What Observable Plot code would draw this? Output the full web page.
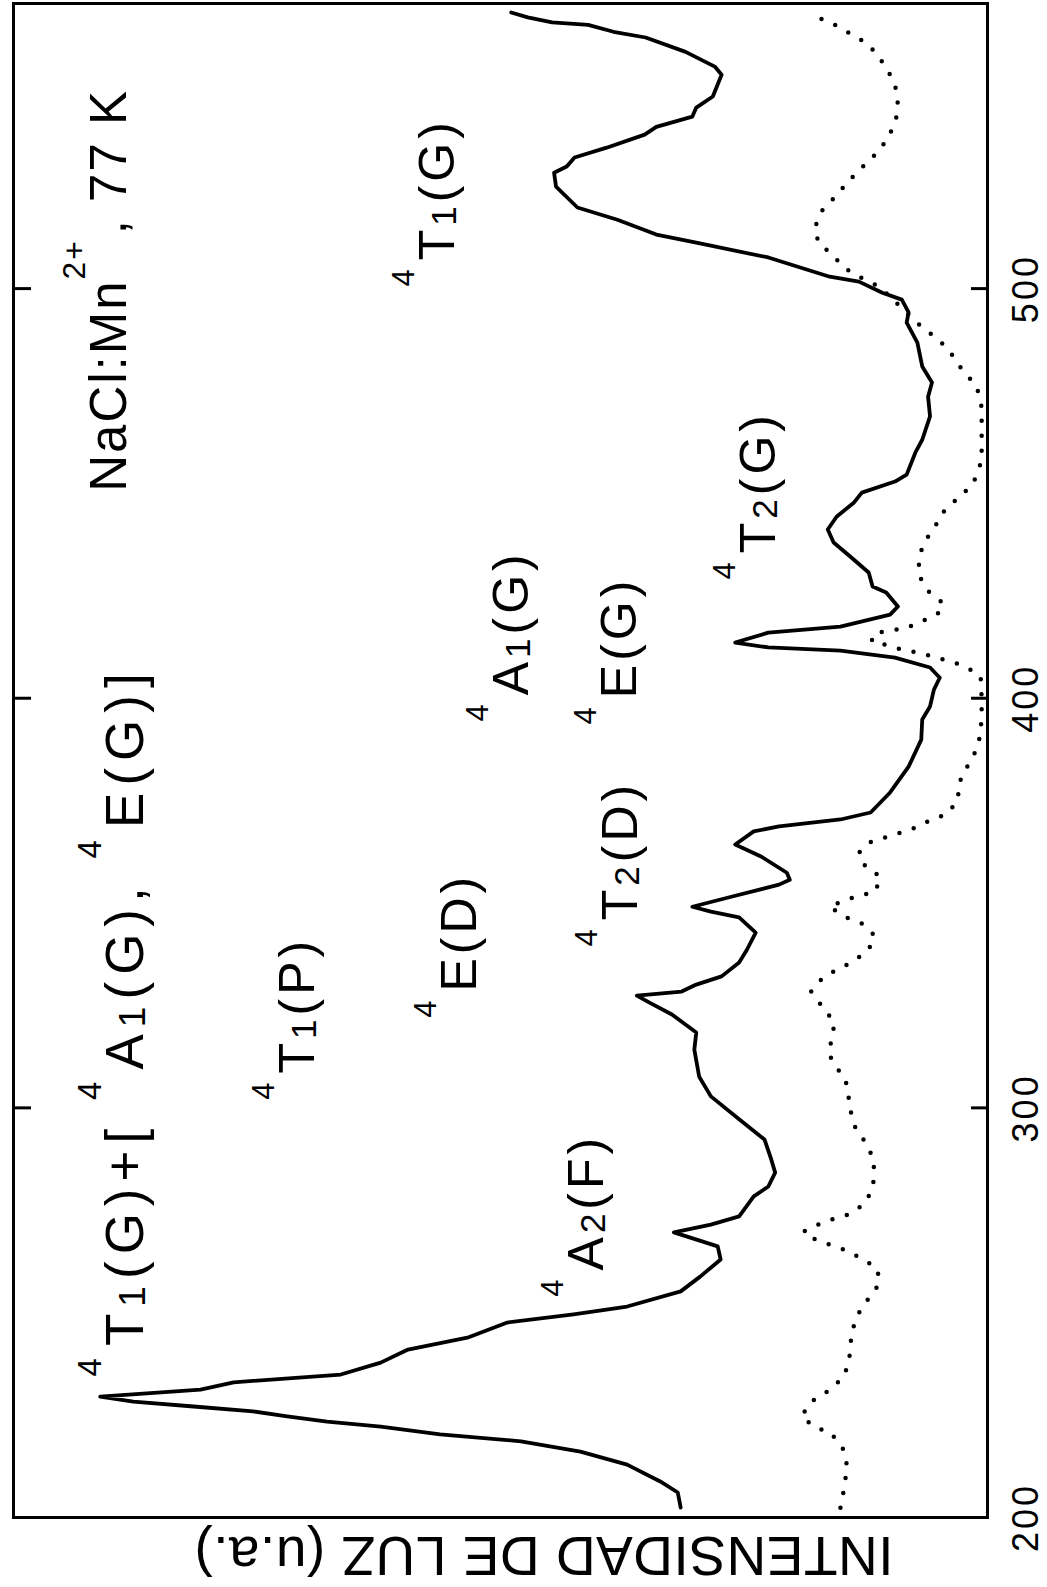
<!DOCTYPE html>
<html><head><meta charset="utf-8">
<script src="https://cdn.jsdelivr.net/npm/d3@7"></script>
<script src="https://cdn.jsdelivr.net/npm/@observablehq/plot@0.6"></script>
<style>
html,body{margin:0;padding:0;background:#fff;}
#wrap{position:relative;width:1047px;height:1587px;overflow:hidden;background:#fff;}
#wrap svg{position:absolute;left:0;top:0;max-width:none !important;width:1587px !important;height:1047px !important;transform-origin:0 0;transform:translate(0,1587px) rotate(-90deg);}
</style></head><body><div id="wrap"></div>
<script>
// Excitation spectrum (solid) — wavelength (nm) and intensity (a.u.)
const wavelengthSolid = [202.4,206.1,208.8,212.9,216.1,218.6,220.3,222.2,223.4,224.7,
225.9,227.1,228.3,229.5,231.2,233.0,234.9,237.8,241.0,243.9,
247.6,249.6,251.5,255.2,258.8,263.0,266.2,269.6,271.5,273.5,
278.4,280.8,284.2,287.4,292.3,297.2,302.8,307.6,314.2,318.4,
322.8,325.7,327.4,328.4,330.1,332.1,335.5,338.6,342.8,346.5,
347.9,349.1,351.6,354.5,355.7,357.4,361.3,364.3,367.5,368.7,
370.4,372.1,377.0,383.3,389.9,394.8,398.0,402.1,405.0,407.5,
409.9,411.6,412.4,413.6,416.0,417.5,420.4,422.4,425.8,427.3,
430.7,434.6,438.0,441.2,444.3,447.8,450.2,452.9,454.6,460.0,
463.1,468.8,473.6,477.1,481.0,486.8,491.7,494.2,497.3,499.0,
501.7,502.9,507.6,511.2,513.2,516.8,519.8,524.9,528.3,529.8,
532.0,534.4,537.6,539.5,542.0,544.2,546.9,552.2,554.2,557.8,
561.3,562.7,564.4,565.0,566.2,567.4];
const intensitySolid = [31.5,31.8,33.6,37.0,41.8,47.9,56.2,62.3,67.8,71.9,
75.4,81.5,87.7,91.1,80.8,77.4,66.4,62.3,59.5,53.4,
49.3,42.5,37.0,31.5,29.5,27.4,27.7,32.2,28.4,25.5,
24.0,22.5,21.8,22.2,22.9,25.5,28.4,29.6,30.1,29.9,
32.4,34.7,36.0,31.4,29.9,27.3,25.5,24.7,23.8,25.5,
28.4,30.3,26.2,21.4,20.3,20.6,23.2,25.9,24.0,21.4,
15.1,12.0,10.0,8.1,6.8,6.7,5.9,5.5,4.9,5.9,
9.5,15.1,22.5,25.9,22.5,15.1,10.0,9.2,10.4,11.8,
12.2,14.1,15.8,16.4,15.5,13.7,12.9,9.5,8.3,7.4,
6.7,5.9,6.1,5.7,6.7,7.2,8.3,8.1,8.8,10.8,
13.2,16.2,22.5,29.9,34.0,38.0,42.1,44.3,44.5,43.2,
42.4,39.1,35.2,34.0,30.3,29.9,28.2,27.3,28.0,31.0,
35.1,38.4,41.0,44.7,47.2,48.9];

// Dotted curve
const wavelengthDotted = [202.4,206.1,212.4,216.6,220.7,222.0,224.7,228.3,230.8,234.2,
238.1,241.7,245.6,249.6,253.5,257.1,260.8,263.2,265.2,266.4,
267.9,269.8,271.5,273.0,274.0,276.6,280.3,284.2,288.1,291.8,
295.4,299.6,303.3,307.2,310.1,313.3,316.9,320.8,324.5,328.4,
331.8,333.8,335.7,338.6,342.1,345.0,346.5,349.1,350.6,351.8,
352.8,356.5,358.7,362.3,364.8,366.0,367.2,368.4,370.4,371.8,
375.3,378.9,382.8,386.7,390.4,395.0,400.0,405.3,407.7,409.0,
409.9,411.1,411.6,412.9,413.8,415.8,416.5,417.0,418.7,420.7,
423.1,426.0,430.2,434.1,437.8,441.4,445.3,448.5,452.2,458.0,
465.0,471.0,476.1,480.2,484.4,487.5,490.5,500.5,502.4,504.6,
507.8,511.5,515.1,519.0,522.5,526.4,530.0,533.7,537.3,541.2,
544.9,548.8,552.7,556.4,559.8,562.0,564.2,565.9];
const intensityDotted = [15.1,14.8,14.4,14.8,16.1,17.7,19.1,18.1,16.4,14.8,
14.2,14.1,13.9,13.3,12.2,11.1,11.3,12.9,14.5,16.0,
17.7,18.9,17.4,15.7,14.2,12.6,11.8,11.6,11.8,12.6,
13.6,14.1,14.3,14.6,15.6,16.3,16.0,15.7,16.9,18.1,
16.9,15.4,13.8,12.2,11.6,12.9,14.5,16.2,14.8,13.1,
11.5,11.0,12.5,13.2,12.1,10.5,8.9,7.4,5.7,4.1,
3.0,3.0,2.2,1.3,0.8,0.6,0.6,0.7,2.2,3.8,
5.3,6.9,8.5,10.2,11.9,11.7,10.2,8.5,6.8,5.1,
4.5,6.0,7.1,7.0,6.6,5.5,4.6,3.2,1.5,0.6,
0.6,0.6,1.1,2.6,3.8,5.0,6.7,11.1,12.8,14.4,
15.8,17.4,17.7,17.0,15.6,14.2,12.7,11.1,10.1,9.4,
9.2,9.4,10.1,11.1,12.3,13.9,15.5,17.1];

const xTicks = [200, 300, 400, 500];
const innerTicks = [300, 400, 500];

// Band assignments (text markup: ^{..} superscript, _{..} subscript)
const labelText = ["^{4}T_{1}(G)", "^{4}T_{2}(G)", "^{4}A_{1}(G)", "^{4}E(G)", "^{4}T_{2}(D)", "^{4}E(D)", "^{4}T_{1}(P)", "^{4}A_{2}(F)"];
const labelLambda = [500.5, 429.0, 394.3, 393.6, 339.4, 322.0, 302.0, 253.9];
const labelLevel = [54.8, 21.8, 47.2, 36.1, 36.0, 52.5, 69.1, 39.5];

const headerText = "^{4}T_{1}(G)+[ ^{4}A_{1}(G), ^{4}E(G)]";
const headerLambda = 234.4, headerLevel = 86.7;
const sampleText = "NaCl:Mn^{2+}, 77 K";
const sampleLambda = 450.4, sampleLevel = 88.5;
const yLabel = "INTENSIDAD DE LUZ (u.a.)";

const solid = wavelengthSolid.map((x, i) => ({x, y: intensitySolid[i]}));
const dotted = wavelengthDotted.map((x, i) => ({x, y: intensityDotted[i]}));
const assignments = labelText.map((t, i) => ({t, x: labelLambda[i], y: labelLevel[i]}));

const W = 1587, H = 1047, mT = 13, mB = 60;
const frameH = H - mT - mB;

const plot = Plot.plot({
  width: W, height: H,
  marginLeft: 69, marginRight: 4, marginTop: mT, marginBottom: mB,
  style: {fontFamily: "'Liberation Sans', Arial, sans-serif", background: "#fff", color: "#000"},
  x: {domain: [200, 569.6]},
  y: {domain: [0, 100], axis: null},
  marks: [
    Plot.line(dotted, {x: "x", y: "y", stroke: "#000", strokeWidth: 4.5, strokeDasharray: "0 15", strokeLinecap: "round"}),
    Plot.line(solid, {x: "x", y: "y", stroke: "#000", strokeWidth: 3.8, strokeLinejoin: "round", strokeLinecap: "round"}),
    Plot.frame({stroke: "#000", strokeWidth: 3}),
    Plot.tickX(innerTicks, {x: d => d, stroke: "#000", strokeWidth: 3, insetTop: frameH - 16}),
    Plot.tickX(innerTicks, {x: d => d, stroke: "#000", strokeWidth: 3, insetBottom: frameH - 18}),
    Plot.axisX({ticks: xTicks, tickSize: 0, tickPadding: 25, fontSize: 36, label: null}),
    Plot.text(assignments, {x: "x", y: "y", text: "t", textAnchor: "start", lineAnchor: "bottom", fontSize: 50, fill: "#000"}),
    Plot.text([{t: headerText, x: headerLambda, y: headerLevel}], {x: "x", y: "y", text: "t", textAnchor: "start", lineAnchor: "bottom", fontSize: 53, fill: "#000"}),
    Plot.text([{t: sampleText, x: sampleLambda, y: sampleLevel}], {x: "x", y: "y", text: "t", textAnchor: "start", lineAnchor: "bottom", fontSize: 51, fill: "#000"}),
    Plot.text([yLabel], {text: d => d, frameAnchor: "bottom-left", rotate: -90, textAnchor: "start", lineAnchor: "bottom", dx: -19, dy: -94, fontSize: 55, fill: "#000"})
  ]
});

const SVGNS = "http://www.w3.org/2000/svg";
function fontSizeOf(el) {
  let n = el;
  while (n && n.getAttribute) {
    const f = n.getAttribute("font-size");
    if (f) return parseFloat(f);
    n = n.parentNode;
  }
  return 50;
}
function richify(t, F, ls) {
  const s = t.textContent;
  while (t.firstChild) t.removeChild(t.firstChild);
  t.style.whiteSpace = "pre";
  t.style.letterSpacing = ls + "px";
  const re = /([\^_])\{([^}]*)\}|([^\^_]+)/g;
  let m, cur = 0, prevSup = false;
  while ((m = re.exec(s))) {
    const ts = document.createElementNS(SVGNS, "tspan");
    let off, size;
    if (m[1] === "^") { off = -0.8 * F; size = 0.62 * F; ts.textContent = m[2]; }
    else if (m[1] === "_") { off = 0.04 * F; size = 0.7 * F; ts.textContent = m[2]; }
    else { off = 0; size = F; ts.textContent = m[3]; }
    ts.setAttribute("font-size", size);
    ts.setAttribute("dy", off - cur);
    if (prevSup && m[1] !== "^") ts.setAttribute("dx", 0.1 * F);
    prevSup = m[1] === "^";
    cur = off;
    t.appendChild(ts);
  }
}
const tickStrings = xTicks.map(String);
plot.querySelectorAll("text").forEach(t => {
  const s = t.textContent;
  if (/[\^_]\{/.test(s)) {
    const F = fontSizeOf(t);
    const ls = F === 53 ? 7 : F === 51 ? 2 : 4;
    richify(t, F, ls);
  } else if (s === yLabel) {
    t.style.whiteSpace = "pre";
    t.style.letterSpacing = "0.5px";
  } else if (tickStrings.includes(s)) {
    t.style.letterSpacing = "3px";
  }
});

document.getElementById("wrap").appendChild(plot);
</script>
</body></html>
